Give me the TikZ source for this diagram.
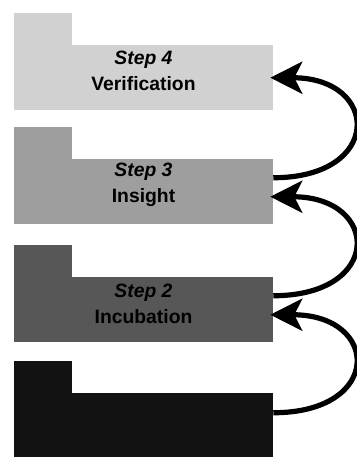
\documentclass[tikz,border=0pt]{standalone}
\usepackage{fontspec}
\setmainfont{Liberation Sans}
\usetikzlibrary{arrows.meta,calc}
\begin{document}
\begin{tikzpicture}[x=0.75pt,y=-0.75pt,
  body/.style={rectangle, inner sep=0pt, minimum width=194.25pt, minimum height=48.75pt},
  tab/.style={rectangle, inner sep=0pt, minimum width=43.5pt, minimum height=25pt, anchor=south west},
  steptext/.style={align=center, inner sep=0pt, font=\bfseries\fontsize{14.5}{19.5}\selectfont},
  flow/.style={line width=3.9pt, -{Stealth[length=24pt,width=24pt,inset=6pt]}},
]
\useasboundingbox (0,0) rectangle (357,457);

% folder-shaped panels, lightest at the top; each tab overlaps its panel slightly
\node[body, fill=black!18] (b4) at (143.5,77.5) {};
\node[tab,  fill=black!18] (tab4) at ($(b4.north west)+(0,1.5)$) {};
\node[body, fill=black!38] (b3) at (143.5,191.5) {};
\node[tab,  fill=black!38] (tab3) at ($(b3.north west)+(0,1.5)$) {};
\node[body, fill=black!66] (b2) at (143.5,309.5) {};
\node[tab,  fill=black!66] (tab2) at ($(b2.north west)+(0,1.5)$) {};
\node[body, fill=black!93] (b1) at (143.5,425.5) {};
\node[tab,  fill=black!93] (tab1) at ($(b1.north west)+(0,1.5)$) {};

% step labels
\node[steptext] (t4) at (143.5,71)  {\textit{Step 4}\\Verification};
\node[steptext] (t3) at (143.5,185) {\textit{Step 3}\\Insight};
\node[steptext] (t2) at (143.5,304) {\textit{Step 2}\\Incubation};

% curved arrows leading up from each step to the next
\draw[flow] ($(b1.north east)+(0,20)$) .. controls +(110,0) and +(110,0) .. ($(b2.north east)+(-3,38)$);
\draw[flow] ($(b2.north east)+(0,19)$) .. controls +(110,0) and +(110,0) .. ($(b3.north east)+(-3,38)$);
\draw[flow] ($(b3.north east)+(0,19)$) .. controls +(110,0) and +(110,0) .. ($(b4.north east)+(-3,33)$);
\end{tikzpicture}
\end{document}
